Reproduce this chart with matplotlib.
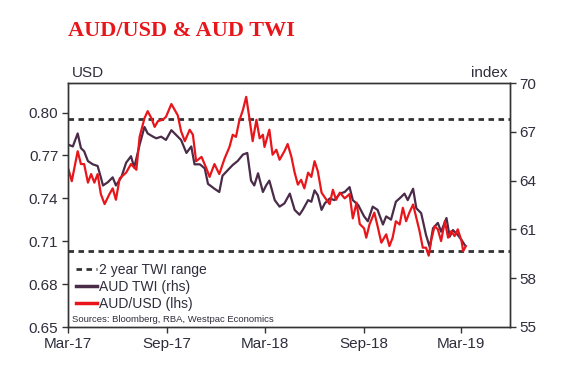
import pandas as pd
import matplotlib
matplotlib.use("Agg")
import matplotlib.pyplot as plt
from matplotlib.lines import Line2D

# AUD/USD (lhs)
usd_dates = ["2017-03-02", "2017-03-08", "2017-03-19", "2017-03-25", "2017-03-31", "2017-04-07",
             "2017-04-13", "2017-04-19", "2017-04-25", "2017-05-01", "2017-05-08", "2017-05-17",
             "2017-05-23", "2017-05-29", "2017-06-05", "2017-06-17", "2017-06-26", "2017-07-06",
             "2017-07-12", "2017-07-21", "2017-07-27", "2017-08-03", "2017-08-09", "2017-08-15",
             "2017-08-24", "2017-08-30", "2017-09-09", "2017-09-15", "2017-09-21", "2017-09-27",
             "2017-10-04", "2017-10-13", "2017-10-19", "2017-10-25", "2017-11-04", "2017-11-13",
             "2017-11-19", "2017-11-28", "2017-12-07", "2017-12-17", "2017-12-26", "2018-01-01",
             "2018-01-07", "2018-01-13", "2018-01-20", "2018-01-26", "2018-02-01", "2018-02-07",
             "2018-02-14", "2018-02-20", "2018-02-26", "2018-03-01", "2018-03-10", "2018-03-16",
             "2018-03-23", "2018-03-29", "2018-04-07", "2018-04-13", "2018-04-20", "2018-04-26",
             "2018-05-02", "2018-05-08", "2018-05-14", "2018-05-21", "2018-05-27", "2018-06-02",
             "2018-06-08", "2018-06-15", "2018-06-24", "2018-06-30", "2018-07-06", "2018-07-12",
             "2018-07-19", "2018-07-28", "2018-08-06", "2018-08-12", "2018-08-19", "2018-08-25",
             "2018-09-02", "2018-09-06", "2018-09-12", "2018-09-21", "2018-09-27", "2018-10-04",
             "2018-10-13", "2018-10-19", "2018-10-25", "2018-10-31", "2018-11-07", "2018-11-13",
             "2018-11-19", "2018-11-25", "2018-12-02", "2018-12-08", "2018-12-14", "2018-12-20",
             "2018-12-26", "2018-12-31", "2019-01-05", "2019-01-11", "2019-01-17", "2019-01-23",
             "2019-01-30", "2019-02-05", "2019-02-11", "2019-02-17", "2019-02-23", "2019-03-02",
             "2019-03-05", "2019-03-10"]
usd_values = [0.760, 0.752, 0.773, 0.764, 0.764, 0.751,
              0.757, 0.751, 0.757, 0.743, 0.736, 0.743,
              0.747, 0.739, 0.754, 0.758, 0.764, 0.760,
              0.783, 0.796, 0.801, 0.796, 0.790, 0.794,
              0.795, 0.797, 0.806, 0.802, 0.798, 0.787,
              0.780, 0.788, 0.7845, 0.766, 0.769, 0.761,
              0.755, 0.764, 0.757, 0.768, 0.776, 0.7845,
              0.783, 0.794, 0.802, 0.811, 0.796, 0.780,
              0.795, 0.782, 0.7845, 0.776, 0.788, 0.7705,
              0.774, 0.767, 0.773, 0.778, 0.769, 0.758,
              0.7496, 0.753, 0.747, 0.758, 0.755, 0.766,
              0.759, 0.744, 0.739, 0.736, 0.746, 0.739,
              0.744, 0.740, 0.743, 0.726, 0.737, 0.722,
              0.719, 0.7125, 0.7217, 0.730, 0.7206, 0.709,
              0.7148, 0.7066, 0.7125, 0.724, 0.7217, 0.7334,
              0.724, 0.730, 0.7357, 0.7264, 0.7171, 0.7055,
              0.7055, 0.6999, 0.7113, 0.7206, 0.7183, 0.7101,
              0.724, 0.7125, 0.7171, 0.7136, 0.7183, 0.7101,
              0.7031, 0.7066]

# AUD TWI (rhs)
twi_dates = ["2017-03-02", "2017-03-10", "2017-03-19", "2017-03-25", "2017-03-31", "2017-04-07",
             "2017-04-16", "2017-04-25", "2017-05-01", "2017-05-05", "2017-05-14", "2017-05-23",
             "2017-05-29", "2017-06-08", "2017-06-17", "2017-06-26", "2017-07-02", "2017-07-12",
             "2017-07-21", "2017-07-27", "2017-08-06", "2017-08-12", "2017-08-21", "2017-08-30",
             "2017-09-09", "2017-09-18", "2017-09-27", "2017-10-07", "2017-10-16", "2017-10-22",
             "2017-11-01", "2017-11-10", "2017-11-16", "2017-11-28", "2017-12-07", "2017-12-13",
             "2017-12-23", "2018-01-01", "2018-01-10", "2018-01-20", "2018-01-28", "2018-02-04",
             "2018-02-10", "2018-02-17", "2018-02-26", "2018-03-04", "2018-03-10", "2018-03-20",
             "2018-03-29", "2018-04-07", "2018-04-17", "2018-04-26", "2018-05-05", "2018-05-11",
             "2018-05-21", "2018-05-27", "2018-06-02", "2018-06-08", "2018-06-15", "2018-06-21",
             "2018-06-30", "2018-07-09", "2018-07-19", "2018-07-28", "2018-08-06", "2018-08-12",
             "2018-08-22", "2018-09-02", "2018-09-09", "2018-09-18", "2018-09-27", "2018-10-07",
             "2018-10-13", "2018-10-22", "2018-10-31", "2018-11-10", "2018-11-16", "2018-11-22",
             "2018-12-02", "2018-12-08", "2018-12-17", "2018-12-26", "2019-01-02", "2019-01-08",
             "2019-01-17", "2019-01-23", "2019-02-02", "2019-02-08", "2019-02-14", "2019-02-23",
             "2019-03-02", "2019-03-08"]
twi_values = [66.2, 66.1, 66.9, 66.0, 65.8, 65.2,
              65.0, 64.9, 64.2, 63.7, 63.9, 64.2,
              63.7, 64.2, 65.1, 65.5, 64.8, 66.2,
              67.3, 66.9, 66.7, 66.6, 66.7, 66.5,
              67.1, 66.8, 66.5, 65.7, 66.1, 65.0,
              65.0, 64.75, 63.8, 63.5, 63.3, 64.3,
              64.65, 64.96, 65.2, 65.6, 65.7, 64.0,
              63.7, 64.45, 63.3, 63.7, 64.0, 62.8,
              62.4, 62.6, 63.2, 62.2, 61.9, 62.2,
              62.8, 62.7, 63.4, 63.1, 62.2, 62.6,
              62.9, 62.8, 63.2, 63.3, 63.6, 62.8,
              62.5, 61.8, 61.5, 62.4, 62.2, 61.3,
              61.8, 61.6, 62.7, 63.0, 63.2, 62.8,
              63.5, 62.3, 62.0, 60.66, 59.9, 61.07,
              61.4, 60.86, 61.7, 60.55, 60.96, 60.66,
              60.35, 60.04]

# 2 year TWI range (rhs)
twi_range = [59.7, 67.8]

x_ticks = ["2017-03-01", "2017-09-01", "2018-03-01", "2018-09-01", "2019-03-01"]
x_labels = ["Mar-17", "Sep-17", "Mar-18", "Sep-18", "Mar-19"]
usd_ticks = [0.65, 0.68, 0.71, 0.74, 0.77, 0.80]
twi_ticks = [55, 58, 61, 64, 67, 70]

RED = "#e8161b"
PURPLE = "#4a2b48"
TXT = "#2e2e3c"
DASH = (0, (2, 1.6))

plt.rcParams["font.family"] = ["Liberation Sans", "DejaVu Sans"]

W, H = 565, 378
fig = plt.figure(figsize=(W / 100, H / 100), dpi=100)
ax = fig.add_axes([68 / W, 1 - 327 / H, 442 / W, 244 / H])
ax2 = ax.twinx()
ax.set_zorder(2)
ax.patch.set_visible(False)

for lvl in twi_range:
    ax2.axhline(lvl, color="#333333", lw=2, linestyle=DASH)
ax2.plot(pd.to_datetime(twi_dates), twi_values, color=PURPLE, lw=1.6)
ax.plot(pd.to_datetime(usd_dates), usd_values, color=RED, lw=1.6)

ax.set_xlim(pd.Timestamp("2017-03-01"), pd.Timestamp("2019-05-31"))
ax.set_ylim(0.65, 0.8207)
ax2.set_ylim(55, 70)

ax.set_xticks(pd.to_datetime(x_ticks))
ax.set_xticklabels(x_labels)
ax.set_yticks(usd_ticks)
ax.set_yticklabels(["%.2f" % v for v in usd_ticks])
ax2.set_yticks(twi_ticks)

for a in (ax, ax2):
    for s in a.spines.values():
        s.set_color("#333333")
        s.set_linewidth(1.0)
    a.tick_params(labelsize=11, colors="#333333", labelcolor=TXT, length=4, width=1, pad=3)

handles = [Line2D([], [], color="#333333", lw=2, linestyle=DASH),
           Line2D([], [], color=PURPLE, lw=2.5),
           Line2D([], [], color=RED, lw=2.5)]
labels = ["2 year TWI range", "AUD TWI (rhs)", "AUD/USD (lhs)"]
fig.legend(handles, labels, loc="upper left", bbox_to_anchor=(76 / W, 1 - 263 / H),
           frameon=False, fontsize=10, handlelength=1.5, handletextpad=0.15,
           labelspacing=0.2, borderpad=0, borderaxespad=0, labelcolor=TXT)
fig.text(72 / W, 1 - 320 / H, "Sources: Bloomberg, RBA, Westpac Economics",
         fontsize=6.8, color=TXT, ha="left", va="center")

fig.text(72 / W, 1 - 77 / H, "USD", fontsize=11, color=TXT, ha="left", va="baseline")
fig.text(507 / W, 1 - 77 / H, "index", fontsize=11, color=TXT, ha="right", va="baseline")
fig.text(68 / W, 1 - 36 / H, "AUD/USD & AUD TWI", fontsize=16, fontweight="bold", color=RED,
         family=["Liberation Serif", "DejaVu Serif"], ha="left", va="baseline")

fig.savefig("out.png", dpi=100)
